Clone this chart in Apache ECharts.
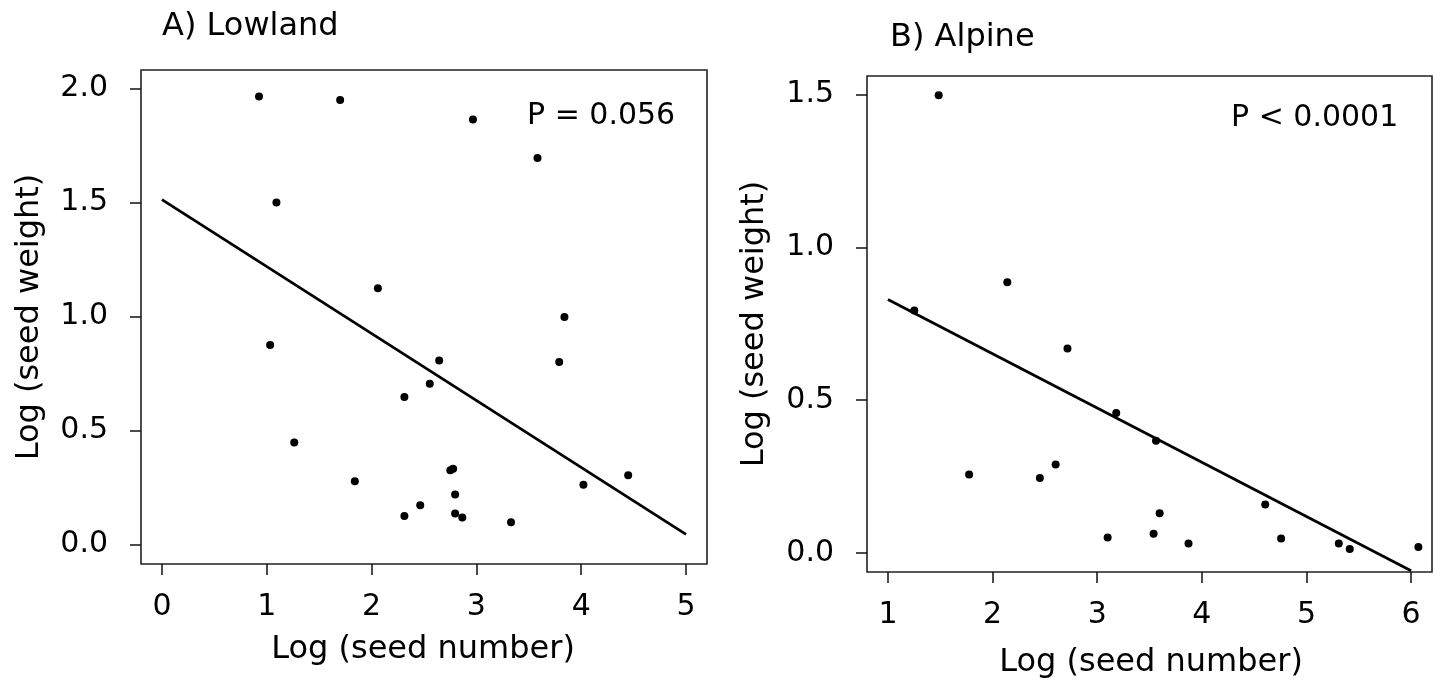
<!DOCTYPE html>
<html><head><meta charset="utf-8">
<script src="https://cdn.jsdelivr.net/npm/echarts@6/dist/echarts.min.js"></script>
<style>html,body{margin:0;padding:0;background:#fff}#c{width:1436px;height:693px}</style>
</head><body><div id="c"></div>
<script>
// Panel A: Lowland
const lowlandX = [0.926, 1.70, 2.967, 3.583, 1.092, 2.06, 3.84, 1.032, 2.645, 3.79, 2.555, 2.313, 1.262, 2.751, 2.778, 4.448, 1.84, 4.021, 2.797, 2.464, 2.313, 2.797, 2.865, 3.33];
const lowlandY = [1.964, 1.949, 1.863, 1.694, 1.499, 1.123, 0.998, 0.875, 0.807, 0.800, 0.705, 0.647, 0.448, 0.326, 0.332, 0.304, 0.278, 0.262, 0.220, 0.173, 0.125, 0.136, 0.119, 0.098];
const lowlandFitX = [0, 5];
const lowlandFitY = [1.512, 0.045];
const lowlandXTicks = [0, 1, 2, 3, 4, 5];
const lowlandYTicks = [0, 0.5, 1.0, 1.5, 2.0];

// Panel B: Alpine
const alpineX = [1.485, 2.141, 1.252, 2.716, 3.182, 3.562, 2.603, 1.776, 2.452, 4.606, 3.597, 3.10, 3.539, 4.758, 3.873, 5.309, 5.414, 6.07];
const alpineY = [1.498, 0.886, 0.793, 0.669, 0.458, 0.367, 0.289, 0.256, 0.245, 0.158, 0.129, 0.050, 0.062, 0.047, 0.030, 0.030, 0.012, 0.019];
const alpineFitX = [1, 6];
const alpineFitY = [0.829, -0.059];
const alpineXTicks = [1, 2, 3, 4, 5, 6];
const alpineYTicks = [0, 0.5, 1.0, 1.5];

const titles = ['A) Lowland', 'B) Alpine'];
const pLabels = ['P = 0.056', 'P < 0.0001'];
const xTitle = 'Log (seed number)';
const yTitle = 'Log (seed weight)';

const FONT = 'DejaVu Sans';
const INK = '#000';
const zip = (a, b) => a.map((v, i) => [v, b[i]]);

function xAxisDef(gi, min, max, ticks) {
  return {
    type: 'value', gridIndex: gi, min: min, max: max, position: 'bottom',
    axisLine: { show: false, onZero: false },
    splitLine: { show: false },
    axisTick: { show: true, length: 11, inside: false, customValues: ticks, lineStyle: { color: '#111', width: 1.5 } },
    axisLabel: { customValues: ticks, margin: 28, fontFamily: FONT, fontSize: 30, lineHeight: 30, color: INK,
      formatter: v => String(v) }
  };
}
function yAxisDef(gi, min, max, ticks) {
  return {
    type: 'value', gridIndex: gi, min: min, max: max, position: 'left',
    axisLine: { show: false, onZero: false },
    splitLine: { show: false },
    axisTick: { show: true, length: 11, inside: false, customValues: ticks, lineStyle: { color: '#111', width: 1.5 } },
    axisLabel: { customValues: ticks, margin: 33, fontFamily: FONT, fontSize: 30, lineHeight: 30, color: INK,
      formatter: v => v.toFixed(1) }
  };
}

const txt = (text, x, y, size, align, rot) => ({
  type: 'text', x: x, y: y, rotation: rot || 0,
  style: { text: text, fontFamily: FONT, fontSize: size, fill: INK, textAlign: align, textVerticalAlign: 'middle' }
});

const option = {
  animation: false,
  backgroundColor: '#fff',
  grid: [
    { left: 141, top: 70, width: 566, height: 494, show: true, borderColor: '#222', borderWidth: 1.6, backgroundColor: 'transparent' },
    { left: 867, top: 76, width: 565, height: 496, show: true, borderColor: '#222', borderWidth: 1.6, backgroundColor: 'transparent' }
  ],
  xAxis: [
    xAxisDef(0, -0.2, 5.2, lowlandXTicks),
    xAxisDef(1, 0.8, 6.2, alpineXTicks)
  ],
  yAxis: [
    yAxisDef(0, -0.085, 2.08, lowlandYTicks),
    yAxisDef(1, -0.063, 1.561, alpineYTicks)
  ],
  series: [
    { type: 'scatter', xAxisIndex: 0, yAxisIndex: 0, data: zip(lowlandX, lowlandY), symbol: 'circle', symbolSize: 8, itemStyle: { color: '#000', opacity: 1 } },
    { type: 'line', xAxisIndex: 0, yAxisIndex: 0, data: zip(lowlandFitX, lowlandFitY), symbol: 'none', lineStyle: { color: '#000', width: 2.8 } },
    { type: 'scatter', xAxisIndex: 1, yAxisIndex: 1, data: zip(alpineX, alpineY), symbol: 'circle', symbolSize: 8, itemStyle: { color: '#000', opacity: 1 } },
    { type: 'line', xAxisIndex: 1, yAxisIndex: 1, data: zip(alpineFitX, alpineFitY), symbol: 'none', lineStyle: { color: '#000', width: 2.8 } }
  ],
  graphic: [
    txt(titles[0], 162, 27, 32, 'left'),
    txt(titles[1], 890, 38, 32, 'left'),
    txt(pLabels[0], 527, 116, 30, 'left'),
    txt(pLabels[1], 1231, 118, 30, 'left'),
    txt(xTitle, 423, 650, 32, 'center'),
    txt(xTitle, 1151, 663, 32, 'center'),
    txt(yTitle, 30, 317, 32, 'center', Math.PI / 2),
    txt(yTitle, 755, 324, 32, 'center', Math.PI / 2)
  ]
};

const chart = echarts.init(document.getElementById('c'), null, { renderer: 'canvas' });
chart.setOption(option);
</script>
</body></html>
